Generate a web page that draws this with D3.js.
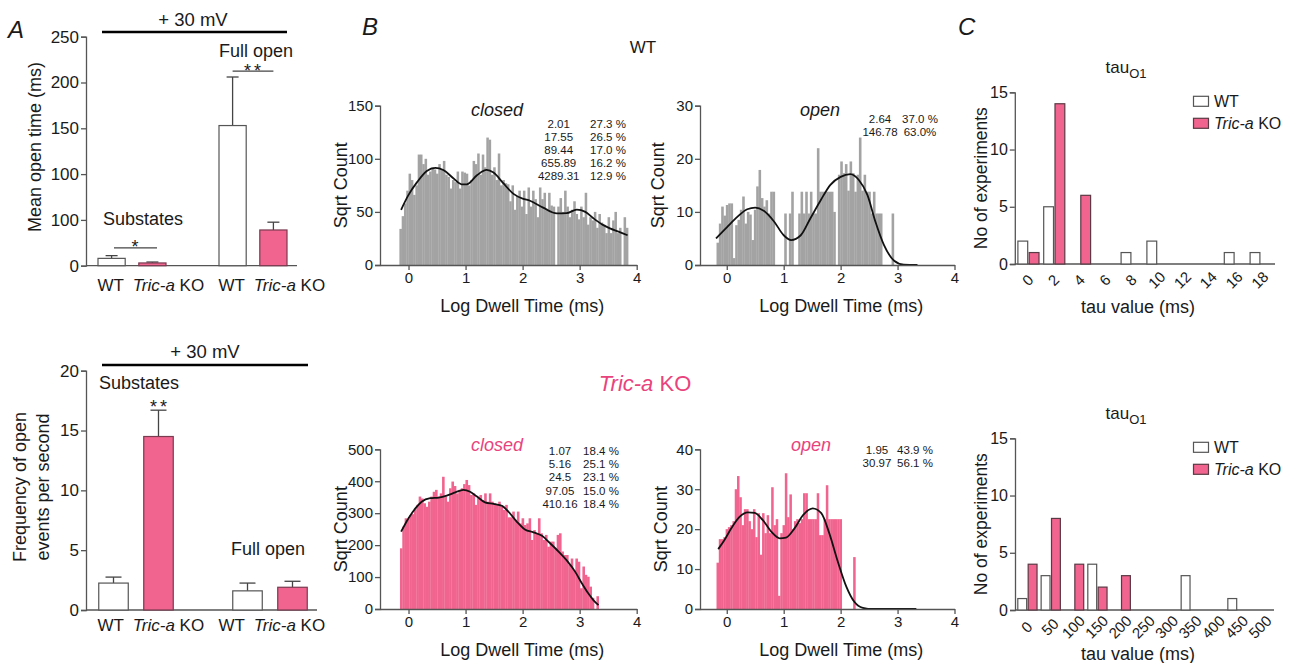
<!DOCTYPE html>
<html>
<head>
<meta charset="utf-8">
<script src="https://cdn.jsdelivr.net/npm/d3@7"></script>
<style>
  body { margin: 0; background: #fff; }
  svg { font-family: "Liberation Sans", Arial, Helvetica, sans-serif; }
</style>
</head>
<body>
<svg id="fig" width="1293" height="663"></svg>
<script>
// ---------------- data ----------------
var genotypes = ["WT", "Tric-a KO"];
var conditions = ["Substates", "Full open"];

// A top: mean open time (ms), order [substates, full open]
var meanOpenWT = [8, 153];
var meanOpenWTsem = [3, 53];
var meanOpenKO = [3, 39];
var meanOpenKOsem = [1, 8.5];
var meanOpenTicks = [0, 50, 100, 150, 200, 250];
var meanOpenTickLabels = ["0", "100", "100", "150", "200", "250"];

// A bottom: frequency of open events per second
var freqWT = [2.25, 1.6];
var freqWTsem = [0.5, 0.65];
var freqKO = [14.5, 1.9];
var freqKOsem = [2.2, 0.5];
var freqTicks = [0, 5, 10, 15, 20];

// B: sqrt count histograms (log10 dwell time bins)
var wtClosedSqrt = [34, 46, 58, 70,
  86, 80, 66, 75, 104, 104, 95, 100, 85, 88, 92, 90, 86, 95, 90,
  98, 85, 83, 72, 80, 78, 88, 72, 88, 87, 86, 75, 80, 98, 95,
  105, 85, 104, 92, 120, 118, 85, 92, 80, 105, 75, 80, 77, 76, 60,
  75, 52, 65, 70, 55, 70, 48, 73, 55, 70, 62, 45, 73, 62, 68,
  53, 68, 56, 55, 0, 55, 63, 50, 70, 55, 45, 52, 60, 48, 43,
  55, 45, 68, 38, 45, 42, 50, 35, 48, 40, 38, 30, 45, 30, 42,
  50, 30, 35, 0, 45, 35];
var wtClosedBin = [-0.16, 0.0401];
var wtClosedFit = [[-0.13, 52], [0, 66], [0.15, 78], [0.32, 88.5], [0.47, 91.5], [0.61, 89.5],
  [0.79, 81.5], [0.93, 76], [1.02, 76], [1.2, 84.5], [1.37, 89.5], [1.49, 87], [1.66, 77],
  [1.84, 67], [2.0, 62.5], [2.13, 60.5], [2.36, 54], [2.6, 48.6], [2.77, 48.8], [2.95, 52.2],
  [3.1, 50], [3.24, 44], [3.4, 38], [3.53, 34.5], [3.68, 31.5], [3.84, 28]];
var wtClosedTau = ["2.01", "17.55", "89.44", "655.89", "4289.31"];
var wtClosedPct = ["27.3 %", "26.5 %", "17.0 %", "16.2 %", "12.9 %"];

var wtOpenSqrt = [4.2, 7.8, 11, 9.3, 11.3, 11.6, 11.6, 1.3, 7.5, 8.5,
  10.4, 12.9, 7.8, 10, 9.5, 4.7, 10.4, 14.8, 17.9, 12.6,
  11, 12.2, 9.7, 13.8, 13.8, 0, 0, 0, 0, 9.7,
  0, 9.7, 13.8, 0, 0, 9.7, 13.8, 9.7, 13.8, 9.7,
  13.8, 9.7, 9.7, 22, 13.8, 13.8, 13.8, 13.8, 13.8, 13.8,
  10, 0, 17, 19.5, 17.3, 19, 14, 19.5, 17.3, 13.8,
  17, 24, 14, 17, 13.8, 13.8, 9.7, 13.8, 9.7, 9.7,
  9.7, 0, 0, 0, 0, 9.7];
var wtOpenBin = [-0.18, 0.041];
var wtOpenFit = [[-0.19, 5], [0.01, 7.2], [0.19, 9.1], [0.36, 10.5], [0.5, 10.8], [0.65, 10.2],
  [0.83, 8.2], [1.0, 5.6], [1.13, 4.7], [1.3, 5.6], [1.47, 8.8], [1.65, 12.2], [1.82, 15.1],
  [2.0, 16.6], [2.17, 17.1], [2.32, 16], [2.47, 13.2], [2.61, 8.2], [2.76, 3.8], [2.94, 0.8],
  [3.11, 0.05], [3.35, 0]];
var wtOpenTau = ["2.64", "146.78"];
var wtOpenPct = ["37.0 %", "63.0%"];

var koClosedSqrt = [190, 258, 284, 281, 294, 297, 312, 326, 352, 346,
  331, 320, 336, 352, 367, 373, 352, 362, 414, 352,
  336, 378, 399, 385, 362, 373, 378, 391, 404, 388,
  357, 362, 326, 352, 357, 341, 362, 336, 362, 336,
  331, 326, 336, 320, 310, 326, 287, 287, 305, 279,
  305, 268, 284, 263, 268, 284, 216, 247, 237, 284,
  237, 216, 232, 195, 211, 211, 190, 232, 237, 180,
  169, 169, 138, 158, 122, 158, 148, 65, 133, 107,
  101, 70, 35, 0, 40];
var koClosedBin = [-0.15, 0.041];
var koClosedFit = [[-0.13, 242], [0, 284], [0.12, 315], [0.23, 336], [0.38, 347], [0.53, 349],
  [0.67, 355], [0.82, 365], [0.96, 373], [1.08, 367], [1.2, 352], [1.34, 334], [1.49, 329],
  [1.64, 323], [1.75, 305], [1.9, 273], [2.04, 249], [2.19, 240], [2.34, 229], [2.48, 206],
  [2.63, 180], [2.77, 153], [2.92, 117], [3.04, 80], [3.15, 49], [3.24, 28], [3.33, 12]];
var koClosedTau = ["1.07", "5.16", "24.5", "97.05", "410.16"];
var koClosedPct = ["18.4 %", "25.1 %", "23.1 %", "15.0 %", "18.4 %"];

var koOpenSqrt = [11.6, 17.5, 17.5, 18, 20, 20.5, 21, 22, 30, 33.3,
  28, 21, 25, 25, 22, 20, 25, 18, 24, 13.6,
  24, 19, 23.5, 19, 30.5, 21, 22.5, 3.3, 19, 21,
  34, 23, 28.7, 20, 22, 22.5, 21.5, 22.5, 29, 29,
  22.5, 22.5, 22.5, 22.5, 29, 18.5, 18.5, 22.5, 31, 22.5,
  22.5, 22.5, 22.5, 22.5, 22.5, 0, 0, 0, 0, 0, 13];
var koOpenBin = [-0.18, 0.04];
var koOpenFit = [[-0.15, 15], [-0.04, 17.3], [0.08, 20.2], [0.22, 23], [0.37, 24.2], [0.49, 24.1],
  [0.63, 22.3], [0.78, 19.4], [0.93, 17.7], [1.04, 17.9], [1.19, 20.2], [1.34, 23.5], [1.51, 25.2],
  [1.66, 24], [1.8, 19], [1.95, 11.9], [2.1, 5.6], [2.24, 1.8], [2.39, 0.3], [2.57, 0], [3.33, 0]];
var koOpenTau = ["1.95", "30.97"];
var koOpenPct = ["43.9 %", "56.1 %"];

// C: distribution of tau_O1 values
var tauShortBins = ["0", "2", "4", "6", "8", "10", "12", "14", "16", "18"];
var tauShortWT = [2, 5, 0, 0, 1, 2, 0, 0, 1, 1];
var tauShortKO = [1, 14, 6, 0, 0, 0, 0, 0, 0, 0];
var tauLongBins = ["0", "50", "100", "150", "200", "250", "300", "350", "400", "450", "500"];
var tauLongWT = [1, 3, 0, 4, 0, 0, 0, 3, 0, 1, 0];
var tauLongKO = [4, 8, 4, 2, 3, 0, 0, 0, 0, 0, 0];
var countTicks = [0, 5, 10, 15];

// ---------------- drawing ----------------
var PINK = "#f0648f", PINK_TEXT = "#e9437d", GRAY_BAR = "#a3a3a3", AXIS = "#555", INK = "#1a1a1a";
var svg = d3.select("#fig");

function styleAxis(g, size) {
  g.attr("font-family", null).attr("font-size", null);
  g.selectAll("path.domain").attr("stroke", AXIS).attr("stroke-width", 1.3);
  g.selectAll(".tick line").attr("stroke", AXIS).attr("stroke-width", 1.3);
  g.selectAll(".tick text").attr("fill", INK).style("font-size", size + "px");
}

function genoText(sel, gt) {
  if (gt === "WT") { sel.text("WT"); return; }
  sel.append("tspan").style("font-style", "italic").text("Tric-a");
  sel.append("tspan").text(" KO");
}

function txt(x, y, s, size, anchor) {
  return svg.append("text").attr("x", x).attr("y", y).attr("text-anchor", anchor || "middle")
    .attr("fill", INK).style("font-size", size + "px").text(s);
}

function barPanel(o) {
  var y = d3.scaleLinear().domain([0, o.ymax]).range([o.base, o.top]);
  var gx = d3.scaleBand().domain(conditions).range(o.groupRange);
  var ix = d3.scaleBand().domain(genotypes).range(o.innerRange).paddingInner(o.pad);
  var ya = svg.append("g").attr("transform", "translate(" + o.left + ",0)")
    .call(d3.axisLeft(y).tickValues(o.ticks).tickSize(5).tickPadding(2)
      .tickFormat(function (d, i) { return o.tickLabels ? o.tickLabels[i] : d; }));
  styleAxis(ya, 17);
  svg.append("line").attr("x1", o.left).attr("x2", o.right).attr("y1", o.base).attr("y2", o.base)
    .attr("stroke", AXIS).attr("stroke-width", 1.3);

  conditions.forEach(function (c, ci) {
    genotypes.forEach(function (gt, gi) {
      var v = o.means[gi][ci], e = o.sems[gi][ci];
      var bx = gx(c) + gx.bandwidth() / 2 + ix(gt), cx = bx + ix.bandwidth() / 2;
      svg.append("line").attr("x1", cx).attr("x2", cx).attr("y1", y(v)).attr("y2", y(v + e))
        .attr("stroke", "#444").attr("stroke-width", 1.3);
      svg.append("line").attr("x1", cx - o.cap / 2).attr("x2", cx + o.cap / 2)
        .attr("y1", y(v + e)).attr("y2", y(v + e)).attr("stroke", "#444").attr("stroke-width", 1.3);
      svg.append("rect").attr("x", bx).attr("y", y(v)).attr("width", ix.bandwidth())
        .attr("height", o.base - y(v)).attr("fill", gi === 0 ? "#fff" : PINK)
        .attr("stroke", gi === 0 ? "#555" : "#7a3a50").attr("stroke-width", 1.2);
    });
  });
  return { x: function (c, gt) { return gx(c) + gx.bandwidth() / 2 + ix(gt) + ix.bandwidth() / 2; }, y: y };
}

function hist(o) {
  var x = d3.scaleLinear().domain([o.xmin, 4]).range([o.left, o.right]);
  var y = d3.scaleLinear().domain([0, o.ymax]).range([o.base, o.top]);
  var bw = x(o.bin[1]) - x(0);
  svg.append("g").selectAll("rect").data(o.values).join("rect")
    .attr("x", function (d, i) { return x(o.bin[0] + i * o.bin[1]); })
    .attr("width", bw + 0.25)
    .attr("y", function (d) { return y(d); })
    .attr("height", function (d) { return o.base - y(d); })
    .attr("fill", o.color);
  svg.append("path").datum(o.fit)
    .attr("d", d3.line().x(function (d) { return x(d[0]); }).y(function (d) { return y(d[1]); })
      .curve(d3.curveMonotoneX))
    .attr("fill", "none").attr("stroke", "#111").attr("stroke-width", 1.8);
  var ya = svg.append("g").attr("transform", "translate(" + o.left + ",0)")
    .call(d3.axisLeft(y).tickValues(o.yticks).tickSize(5).tickPadding(2));
  styleAxis(ya, 15);
  var xa = svg.append("g").attr("transform", "translate(0," + o.base + ")")
    .call(d3.axisBottom(x).tickValues([0, 1, 2, 3, 4]).tickFormat(d3.format("d"))
      .tickSize(5).tickPadding(2).tickSizeOuter(0));
  styleAxis(xa, 15);

  svg.append("text").attr("x", o.labelX).attr("y", o.labelY).attr("text-anchor", "middle")
    .attr("fill", o.labelColor).style("font-size", "18px").style("font-style", "italic").text(o.label);
  o.tau.forEach(function (t, i) {
    txt(o.statX[0], o.statY + i * 13.2, t, 11.5);
    txt(o.statX[1], o.statY + i * 13.2, o.pct[i], 11.5);
  });
  svg.append("text").attr("transform", "translate(" + o.ytitleX + "," + (o.base + o.top) / 2 + ") rotate(-90)")
    .attr("text-anchor", "middle").attr("fill", INK).style("font-size", "18px").text("Sqrt Count");
  txt((o.left + o.right) / 2 + 14, o.base + 47, "Log Dwell Time (ms)", 18);
}

function tauPanel(o) {
  var x = d3.scaleBand().domain(o.bins).range([o.left, o.right]);
  var y = d3.scaleLinear().domain([0, 15]).range([o.base, o.top]);
  var bw = x.bandwidth() * 0.38;
  var ya = svg.append("g").attr("transform", "translate(" + o.left + ",0)")
    .call(d3.axisLeft(y).tickValues(countTicks).tickSize(5).tickPadding(2));
  styleAxis(ya, 16);
  var xa = svg.append("g").attr("transform", "translate(0," + o.base + ")")
    .call(d3.axisBottom(x).tickSize(0).tickSizeOuter(0));
  styleAxis(xa, 15);
  xa.select("path.domain").attr("d", "M" + o.left + ",0H" + o.axisEnd);
  xa.selectAll(".tick text").attr("y", 0).attr("dy", "0.35em")
    .attr("transform", "translate(0," + o.labelDy + ") rotate(-45)");

  o.bins.forEach(function (b, i) {
    var c = x(b) + x.bandwidth() / 2;
    if (o.wt[i] > 0) {
      svg.append("rect").attr("x", c - bw).attr("y", y(o.wt[i])).attr("width", bw)
        .attr("height", o.base - y(o.wt[i])).attr("fill", "#fff").attr("stroke", "#555").attr("stroke-width", 1.2);
    }
    if (o.ko[i] > 0) {
      svg.append("rect").attr("x", c + 1.5).attr("y", y(o.ko[i])).attr("width", bw)
        .attr("height", o.base - y(o.ko[i])).attr("fill", PINK).attr("stroke", "#5a3a44").attr("stroke-width", 1.2);
    }
  });

  var t = svg.append("text").attr("x", 1126).attr("y", o.top - 19).attr("text-anchor", "middle")
    .attr("fill", INK).style("font-size", "17px");
  t.append("tspan").text("tau");
  t.append("tspan").attr("dy", 5).style("font-size", "13px").text("O1");

  genotypes.forEach(function (gt, gi) {
    var ly = o.top + 4 + gi * 22;
    svg.append("rect").attr("x", 1193.5).attr("y", ly).attr("width", 15).attr("height", 10)
      .attr("fill", gi === 0 ? "#fff" : PINK).attr("stroke", gi === 0 ? "#555" : "#5a3a44").attr("stroke-width", 1.2);
    genoText(txt(1214, ly + 10.5, "", 16, "start"), gt);
  });
  svg.append("text").attr("transform", "translate(987," + (o.base + o.top) / 2 + ") rotate(-90)")
    .attr("text-anchor", "middle").attr("fill", INK).style("font-size", "17.5px").text("No of experiments");
  txt(1138, o.base + o.titleDy, "tau value (ms)", 18);
}

// panel letters
[["A", 8, 38], ["B", 362, 35], ["C", 958, 35]].forEach(function (p) {
  svg.append("text").attr("x", p[1]).attr("y", p[2]).attr("fill", INK)
    .style("font-size", "24px").style("font-style", "italic").text(p[0]);
});

// ---- A top ----
var aTop = barPanel({
  ymax: 250, base: 265.7, top: 36.7, left: 86, right: 297,
  groupRange: [71.5, 313.5], innerRange: [-34, 34], pad: 1 / 3, cap: 12,
  ticks: meanOpenTicks, tickLabels: meanOpenTickLabels,
  means: [meanOpenWT, meanOpenKO], sems: [meanOpenWTsem, meanOpenKOsem]
});
svg.append("line").attr("x1", 102).attr("x2", 287).attr("y1", 32).attr("y2", 32).attr("stroke", "#000").attr("stroke-width", 2.6);
txt(193, 26, "+ 30 mV", 18.5);
txt(256, 57, "Full open", 18);
txt(143, 225, "Substates", 18);
svg.append("line").attr("x1", aTop.x("Full open", "WT")).attr("x2", aTop.x("Full open", "Tric-a KO"))
  .attr("y1", aTop.y(212.5)).attr("y2", aTop.y(212.5)).attr("stroke", "#444").attr("stroke-width", 1.2);
txt(254, 77, "**", 18).style("letter-spacing", "3px");
svg.append("line").attr("x1", 114).attr("x2", 157).attr("y1", aTop.y(19.5)).attr("y2", aTop.y(19.5))
  .attr("stroke", "#444").attr("stroke-width", 1.2);
txt(135, 253, "*", 18);

var labelXs = [];
conditions.forEach(function (c) {
  genotypes.forEach(function (gt, gi) { labelXs.push([aTop.x(c, gt) + (gi === 1 ? 16 : -1), gt]); });
});
labelXs.forEach(function (l) {
  genoText(txt(l[0], 291, "", 17), l[1]);
  genoText(txt(l[0], 631, "", 17), l[1]);
});
svg.append("text").attr("transform", "translate(41,147) rotate(-90)").attr("text-anchor", "middle")
  .attr("fill", INK).style("font-size", "18px").text("Mean open time (ms)");

// ---- A bottom ----
var aBot = barPanel({
  ymax: 20, base: 610, top: 370.7, left: 86, right: 317,
  groupRange: [69, 337], innerRange: [-37.25, 37.25], pad: 0.344, cap: 16,
  ticks: freqTicks,
  means: [freqWT, freqKO], sems: [freqWTsem, freqKOsem]
});
svg.append("line").attr("x1", 102).attr("x2", 308).attr("y1", 365).attr("y2", 365).attr("stroke", "#000").attr("stroke-width", 2.6);
txt(205, 358, "+ 30 mV", 18.5);
txt(99, 389, "Substates", 18, "start");
txt(160, 413, "**", 18).style("letter-spacing", "3px");
txt(268, 555, "Full open", 18);
var yt = svg.append("text").attr("transform", "translate(26,487) rotate(-90)").attr("text-anchor", "middle")
  .attr("fill", INK).style("font-size", "18px");
yt.append("tspan").attr("x", 0).attr("dy", 0).text("Frequency of open");
yt.append("tspan").attr("x", 0).attr("dy", 23).text("events per second");

// ---- B ----
txt(643, 53, "WT", 17);
var koTitle = svg.append("text").attr("x", 645).attr("y", 391).attr("text-anchor", "middle")
  .attr("fill", PINK_TEXT).style("font-size", "22px");
koTitle.append("tspan").style("font-style", "italic").text("Tric-a");
koTitle.append("tspan").text(" KO");

hist({ values: wtClosedSqrt, bin: wtClosedBin, fit: wtClosedFit, color: GRAY_BAR,
  xmin: -0.5, left: 380, right: 636.7, base: 265, top: 105.7, ymax: 150, yticks: [0, 50, 100, 150],
  label: "closed", labelColor: INK, labelX: 497, labelY: 116, tau: wtClosedTau, pct: wtClosedPct,
  statX: [558.7, 608], statY: 127.5, ytitleX: 347 });
hist({ values: wtOpenSqrt, bin: wtOpenBin, fit: wtOpenFit, color: GRAY_BAR,
  xmin: -0.47, left: 700, right: 954.5, base: 265, top: 105.7, ymax: 30, yticks: [0, 10, 20, 30],
  label: "open", labelColor: INK, labelX: 820, labelY: 116, tau: wtOpenTau, pct: wtOpenPct,
  statX: [880, 920], statY: 122.5, ytitleX: 664 });
hist({ values: koClosedSqrt, bin: koClosedBin, fit: koClosedFit, color: PINK,
  xmin: -0.5, left: 380, right: 636.7, base: 609, top: 449.3, ymax: 500, yticks: [0, 100, 200, 300, 400, 500],
  label: "closed", labelColor: PINK_TEXT, labelX: 497, labelY: 451, tau: koClosedTau, pct: koClosedPct,
  statX: [560, 601], statY: 455, ytitleX: 347 });
hist({ values: koOpenSqrt, bin: koOpenBin, fit: koOpenFit, color: PINK,
  xmin: -0.47, left: 700, right: 954.5, base: 609, top: 449.3, ymax: 40, yticks: [0, 10, 20, 30, 40],
  label: "open", labelColor: PINK_TEXT, labelX: 811, labelY: 451, tau: koOpenTau, pct: koOpenPct,
  statX: [877, 915], statY: 453.5, ytitleX: 667 });

// ---- C ----
tauPanel({ bins: tauShortBins, wt: tauShortWT, ko: tauShortKO,
  left: 1014.8, right: 1272.8, axisEnd: 1275, base: 264, top: 92.3, titleDy: 49, labelDy: 16 });
tauPanel({ bins: tauLongBins, wt: tauLongWT, ko: tauLongKO,
  left: 1015, right: 1271.7, axisEnd: 1274, base: 610, top: 438.3, titleDy: 50, labelDy: 17 });
</script>
</body>
</html>
